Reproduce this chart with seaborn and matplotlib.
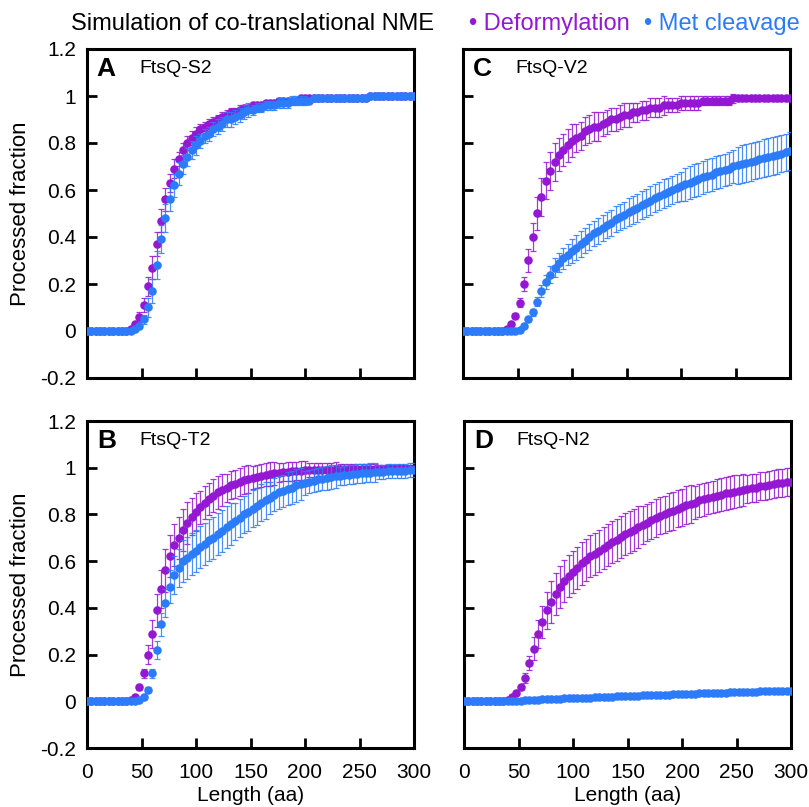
import matplotlib
matplotlib.use("Agg")
import matplotlib.pyplot as plt
import seaborn as sns

# Lengths (aa) of the nascent chain
length = [0, 4, 8, 12, 16, 20, 24, 28, 32, 36, 40, 44, 48, 52, 56, 60, 64, 68, 72, 76,
          80, 84, 88, 92, 96, 100, 104, 108, 112, 116, 120, 124, 128, 132, 136, 140, 144, 148, 152, 156,
          160, 164, 168, 172, 176, 180, 184, 188, 192, 196, 200, 204, 208, 212, 216, 220, 224, 228, 232, 236,
          240, 244, 248, 252, 256, 260, 264, 268, 272, 276, 280, 284, 288, 292, 296, 300]

# A: FtsQ-S2
def_A = [0] * 10 + [0.01, 0.03, 0.06, 0.11, 0.19, 0.27, 0.37, 0.47, 0.56, 0.63,
                    0.69, 0.73, 0.77, 0.80, 0.82, 0.84, 0.86, 0.87, 0.88, 0.89,
                    0.90, 0.91, 0.92, 0.93, 0.93, 0.94, 0.95, 0.95, 0.96, 0.96,
                    0.96, 0.97, 0.97, 0.97, 0.98, 0.98, 0.98, 0.98, 0.98, 0.99] + [0.99] * 15 + [1.0] * 11
def_A_err = [0] * 11 + [0.01, 0.02, 0.03, 0.04, 0.05, 0.05, 0.05, 0.05, 0.04, 0.04,
                        0.03, 0.03, 0.03, 0.03, 0.03] + [0.02] * 10 + [0.01] * 15 + [0.005] * 25
met_A = [0] * 11 + [0.01, 0.02, 0.05, 0.10, 0.17, 0.28, 0.39, 0.48, 0.56, 0.62,
                    0.67, 0.71, 0.74, 0.77, 0.79, 0.81, 0.83, 0.84, 0.86, 0.87,
                    0.88, 0.90, 0.90, 0.91, 0.92, 0.93, 0.94, 0.94, 0.95, 0.95,
                    0.96, 0.96, 0.96, 0.97, 0.97, 0.97, 0.98, 0.98, 0.98, 0.98, 0.98] + [0.99] * 13 + [1.0] * 11
met_A_err = [0] * 12 + [0.01, 0.02, 0.04, 0.05, 0.06, 0.06, 0.06, 0.05, 0.05, 0.05,
                        0.04, 0.04, 0.04, 0.04] + [0.03] * 12 + [0.02] * 13 + [0.01] * 12 + [0.005] * 13

# B: FtsQ-T2
def_B = [0] * 10 + [0.005, 0.02, 0.06, 0.12, 0.20, 0.29, 0.39, 0.48, 0.56, 0.62,
                    0.67, 0.70, 0.735, 0.764, 0.79, 0.81, 0.83, 0.85, 0.866, 0.88,
                    0.894, 0.905, 0.915, 0.924, 0.932, 0.94, 0.946, 0.952, 0.957, 0.962,
                    0.966, 0.97, 0.973, 0.976, 0.979, 0.981, 0.983, 0.985, 0.986, 0.988,
                    0.989] + [0.99] * 6 + [0.995] * 19
def_B_err = [0] * 12 + [0.01, 0.02, 0.04, 0.06, 0.07, 0.08, 0.09, 0.09, 0.09, 0.09,
                        0.09, 0.09, 0.08, 0.08] + [0.07] * 6 + [0.06] * 6 + [0.05] * 6 + [0.04] * 7 + [0.03] * 7 + [0.02] * 9 + [0.015] * 9
met_B = [0] * 12 + [0.005, 0.02, 0.05, 0.12, 0.22, 0.33, 0.42, 0.49, 0.54, 0.57,
                    0.60, 0.615, 0.63, 0.645, 0.66, 0.675, 0.69, 0.70, 0.715, 0.73,
                    0.745, 0.76, 0.77, 0.785, 0.80, 0.81, 0.825, 0.835, 0.85, 0.86,
                    0.87, 0.885, 0.895, 0.90, 0.91, 0.915, 0.925, 0.93, 0.935, 0.94,
                    0.945, 0.95, 0.953, 0.956, 0.96, 0.963, 0.965, 0.967, 0.97, 0.972,
                    0.974, 0.976, 0.977, 0.979, 0.98, 0.982, 0.983, 0.984, 0.985, 0.986,
                    0.987, 0.988, 0.989, 0.99]
met_B_err = [0] * 14 + [0.01, 0.02, 0.04, 0.05, 0.06, 0.07, 0.08, 0.08, 0.09, 0.09,
                        0.09, 0.09] + [0.09] * 8 + [0.08] * 8 + [0.07] * 8 + [0.05] * 8 + [0.04] * 9 + [0.03] * 9

# C: FtsQ-V2
def_C = [0] * 10 + [0.01, 0.03, 0.065, 0.12, 0.20, 0.30, 0.40, 0.50, 0.57, 0.64,
                    0.68, 0.72, 0.75, 0.77, 0.79, 0.81, 0.82, 0.83, 0.85, 0.86,
                    0.87, 0.87, 0.88, 0.89, 0.90, 0.90, 0.91, 0.92, 0.92, 0.93,
                    0.93, 0.94, 0.94, 0.95, 0.95, 0.95, 0.96, 0.96, 0.96, 0.96,
                    0.97] + [0.97] * 4 + [0.98] * 7 + [0.99] * 14
def_C_err = [0] * 12 + [0.01, 0.02, 0.03, 0.05, 0.06, 0.07, 0.08, 0.08, 0.08, 0.08,
                        0.07, 0.07, 0.07, 0.07] + [0.06] * 6 + [0.05] * 7 + [0.04] * 8 + [0.03] * 8 + [0.02] * 8 + [0.01] * 13
met_C = [0] * 12 + [0.0, 0.005, 0.02, 0.05, 0.08, 0.125, 0.17, 0.21, 0.24, 0.27,
                    0.29, 0.31, 0.325, 0.34, 0.355, 0.37, 0.385, 0.40, 0.415, 0.425,
                    0.44, 0.45, 0.46, 0.475, 0.485, 0.495, 0.505, 0.515, 0.525, 0.535,
                    0.545, 0.555, 0.565, 0.575, 0.585, 0.59, 0.60, 0.61, 0.615, 0.625,
                    0.63, 0.64, 0.645, 0.655, 0.66, 0.665, 0.675, 0.68, 0.685, 0.69,
                    0.70, 0.705, 0.71, 0.715, 0.72, 0.725, 0.73, 0.735, 0.74, 0.745,
                    0.75, 0.755, 0.76, 0.765]
met_C_err = [0] * 15 + [0.01, 0.015, 0.02, 0.025, 0.03, 0.035, 0.04, 0.04, 0.045, 0.045,
                        0.05] + [0.055] * 12 + [0.06] * 13 + [0.07] * 12 + [0.08] * 13

# D: FtsQ-N2
def_D = [0] * 10 + [0.005, 0.02, 0.035, 0.06, 0.10, 0.165, 0.225, 0.29, 0.34, 0.39,
                    0.425, 0.46, 0.49, 0.515, 0.535, 0.555, 0.57, 0.59, 0.605, 0.62,
                    0.63, 0.645, 0.655, 0.67, 0.68, 0.69, 0.705, 0.715, 0.725, 0.735,
                    0.745, 0.755, 0.765, 0.775, 0.785, 0.795, 0.80, 0.81, 0.815, 0.825,
                    0.83, 0.84, 0.845, 0.85, 0.86, 0.865, 0.87, 0.875, 0.88, 0.885,
                    0.89, 0.893, 0.897, 0.90, 0.905, 0.908, 0.912, 0.915, 0.92, 0.923,
                    0.926, 0.93, 0.933, 0.936, 0.938, 0.94]
def_D_err = [0] * 13 + [0.01, 0.02, 0.03, 0.05, 0.06, 0.07, 0.08, 0.09, 0.09, 0.09,
                        0.09, 0.09, 0.09] + [0.09] * 15 + [0.08] * 12 + [0.07] * 12 + [0.06] * 11
met_D = [0] * 11 + [0.001, 0.002, 0.003, 0.004, 0.005, 0.006, 0.007, 0.008, 0.008, 0.009,
                    0.01, 0.011, 0.012, 0.012, 0.013, 0.014, 0.015, 0.015, 0.016, 0.017,
                    0.018, 0.018, 0.019, 0.02, 0.021, 0.021, 0.022, 0.023, 0.024, 0.024,
                    0.025, 0.026, 0.026, 0.027, 0.028, 0.028, 0.029, 0.03, 0.03, 0.031,
                    0.032, 0.032, 0.033, 0.034, 0.034, 0.035, 0.036, 0.036, 0.037, 0.037,
                    0.038, 0.039, 0.039, 0.04, 0.04, 0.041, 0.041, 0.042, 0.043, 0.043,
                    0.044, 0.044, 0.045, 0.045, 0.046]
met_D_err = [0] * 11 + [0.004] * 65

panels = [
    ("A", "FtsQ-S2", def_A, def_A_err, met_A, met_A_err),
    ("B", "FtsQ-T2", def_B, def_B_err, met_B, met_B_err),
    ("C", "FtsQ-V2", def_C, def_C_err, met_C, met_C_err),
    ("D", "FtsQ-N2", def_D, def_D_err, met_D, met_D_err),
]

PURPLE = "#9418D2"
BLUE = "#2C7BFB"

sns.set_style("ticks", {"axes.edgecolor": "black", "text.color": "black",
                        "xtick.color": "black", "ytick.color": "black",
                        "axes.labelcolor": "black"})
plt.rcParams["font.family"] = ["Liberation Sans", "DejaVu Sans"]

fig = plt.figure(figsize=(8.09, 8.07), dpi=100)
W, H = 809, 807
boxes = {
    "A": [87 / W, 1 - 378 / H, 327 / W, 329 / H],
    "B": [87 / W, 1 - 748 / H, 327 / W, 327 / H],
    "C": [463 / W, 1 - 378 / H, 327 / W, 329 / H],
    "D": [464 / W, 1 - 748 / H, 327 / W, 327 / H],
}

for letter, name, d, d_err, m, m_err in panels:
    ax = fig.add_axes(boxes[letter])
    ax.errorbar(length, d, yerr=d_err, fmt="none", ecolor=PURPLE, elinewidth=0.9,
                capsize=2.5, capthick=0.9, alpha=0.85, zorder=2)
    sns.scatterplot(x=length, y=d, color=PURPLE, s=38, linewidth=0, ax=ax, zorder=3)
    ax.errorbar(length, m, yerr=m_err, fmt="none", ecolor=BLUE, elinewidth=0.9,
                capsize=2.5, capthick=0.9, alpha=0.85, zorder=4)
    sns.scatterplot(x=length, y=m, color=BLUE, s=38, linewidth=0, ax=ax, zorder=5)

    ax.set_xlim(0, 300)
    ax.set_ylim(-0.2, 1.2)
    ax.set_xticks([0, 50, 100, 150, 200, 250, 300])
    ax.set_yticks([-0.2, 0, 0.2, 0.4, 0.6, 0.8, 1.0, 1.2])
    for sp in ax.spines.values():
        sp.set_visible(True)
        sp.set_linewidth(2.2)
        sp.set_color("black")
    ax.tick_params(direction="in", length=7, width=2, labelsize=15, colors="black")
    ax.tick_params(axis="x", pad=11)
    ax.tick_params(axis="y", pad=8)

    if letter in ("A", "B"):
        ax.set_yticklabels(["-0.2", "0", "0.2", "0.4", "0.6", "0.8", "1", "1.2"])
        ax.set_ylabel("Processed fraction", fontsize=16)
        ax.yaxis.set_label_coords(-0.172, 0.5)
    else:
        ax.set_yticklabels([])
        ax.set_ylabel("")
    if letter in ("B", "D"):
        ax.set_xticklabels(["0", "50", "100", "150", "200", "250", "300"])
        ax.set_xlabel("Length (aa)", fontsize=15)
        ax.xaxis.set_label_coords(0.5, -0.115)
    else:
        ax.set_xticklabels([])
        ax.set_xlabel("")

    ax.text(0.03, 0.94, letter, transform=ax.transAxes, fontsize=19,
            fontweight="bold", va="center", ha="left")
    ax.text(0.16, 0.94, name, transform=ax.transAxes, fontsize=14,
            va="center", ha="left")

fig.text(71 / W, 1 - 24 / H, "Simulation of co-translational NME", fontsize=17,
         va="center", ha="left")
fig.text(469 / W, 1 - 24 / H, "\u2022 Deformylation", fontsize=17, color=PURPLE,
         va="center", ha="left")
fig.text(644 / W, 1 - 24 / H, "\u2022 Met cleavage", fontsize=17, color=BLUE,
         va="center", ha="left")

fig.savefig("out.png", dpi=100)
